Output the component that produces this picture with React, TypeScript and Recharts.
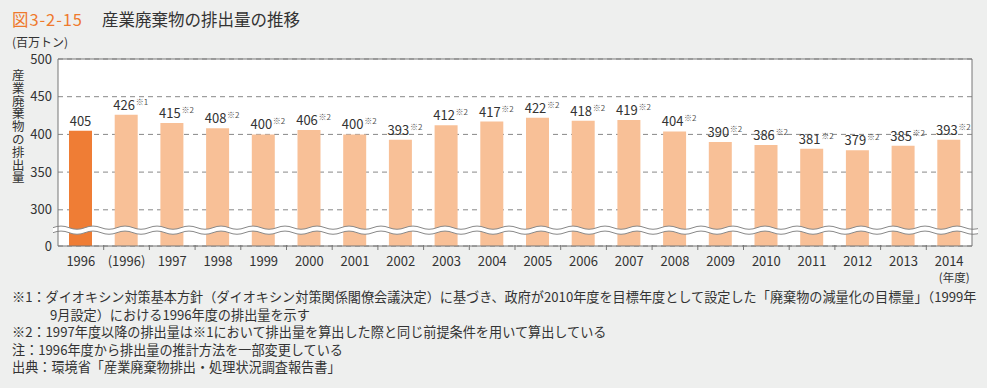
import { BarChart, Bar, XAxis, YAxis, CartesianGrid, Cell, LabelList, ReferenceLine } from 'recharts';

const years = [
  '1996', '(1996)', '1997', '1998', '1999', '2000', '2001', '2002', '2003', '2004',
  '2005', '2006', '2007', '2008', '2009', '2010', '2011', '2012', '2013', '2014',
];
const emissions = [405, 426, 415, 408, 400, 406, 400, 393, 412, 417, 422, 418, 419, 404, 390, 386, 381, 379, 385, 393];
const notes = ['', '※1', '※2', '※2', '※2', '※2', '※2', '※2', '※2', '※2', '※2', '※2', '※2', '※2', '※2', '※2', '※2', '※2', '※2', '※2'];
// bottom of the broken axis is shown as 0
const yTicks = [252, 300, 350, 400, 450, 500];
const yLabel = '産業廃棄物の排出量';
const footnotes = [
  '※1：ダイオキシン対策基本方針（ダイオキシン対策関係閣僚会議決定）に基づき、政府が2010年度を目標年度として設定した「廃棄物の減量化の目標量」（1999年',
  '9月設定）における1996年度の排出量を示す',
  '※2：1997年度以降の排出量は※1において排出量を算出した際と同じ前提条件を用いて算出している',
  '注：1996年度から排出量の推計方法を一部変更している',
  '出典：環境省「産業廃棄物排出・処理状況調査報告書」',
];

const data = years.map((year, i) => ({ year, value: emissions[i], note: notes[i] }));

const FONT = '"Noto Sans CJK JP", "Noto Sans", sans-serif';
const CHART_W = 987;
const Y_AXIS_W = 58;
const RIGHT = 15;
const BAND = (CHART_W - Y_AXIS_W - RIGHT) / years.length;

const XTick = ({ x, y, payload, index }: any) => (
  <g>
    {index > 0 && (
      <line x1={x - BAND / 2} x2={x - BAND / 2} y1={y - 4} y2={y - 9} stroke="#777" strokeWidth={1} />
    )}
    <text x={x} y={y + 12} textAnchor="middle" fontSize={13} fill="#333" fontFamily={FONT}>
      {payload.value}
    </text>
    {index === years.length - 1 && (
      <text x={x + 5} y={y + 28} textAnchor="middle" fontSize={11.5} fill="#333" fontFamily={FONT}>
        (年度)
      </text>
    )}
  </g>
);

const ValueLabel = ({ x, y, width, value, index }: any) => {
  const cx = x + width / 2;
  const note = notes[index];
  const nx = note ? cx - 2 : cx;
  return (
    <g>
      <text x={nx} y={y - 5} textAnchor="middle" fontSize={13} fill="#333" fontFamily={FONT}>
        {value}
      </text>
      {note && (
        <text x={nx + 11.5} y={y - 10} textAnchor="start" fontSize={8} fill="#555" fontFamily={FONT}>
          {note}
        </text>
      )}
    </g>
  );
};

const WaveBreak = ({ x1, x2, y1 }: any) => {
  const start = x1 - 5;
  const end = x2 + 6;
  const period = 32;
  const amp = 1.6;
  const wave = (yc: number) => {
    let d = `M${start},${yc}`;
    for (let x = start; x < end; x += period) {
      d += ` q${period / 4},${-amp * 2} ${period / 2},0 t${period / 2},0`;
    }
    return d;
  };
  const top = y1 - 2.5;
  const bottom = y1 + 2.5;
  let fill = wave(top);
  const n = Math.ceil((end - start) / period);
  fill += ` L${start + n * period},${bottom}`;
  let back = '';
  for (let i = n - 1; i >= 0; i--) {
    const sx = start + (i + 1) * period;
    back += ` Q${sx - period / 4},${bottom + amp * 2} ${sx - period / 2},${bottom} T${sx - period},${bottom}`;
  }
  fill += back + ' Z';
  return (
    <g>
      <clipPath id="waveClip">
        <rect x={start} y={top - 5} width={end - start} height={15} />
      </clipPath>
      <g clipPath="url(#waveClip)">
        <path d={fill} fill="#fff" stroke="none" />
        <path d={wave(top)} fill="none" stroke="#888" strokeWidth={1} />
        <path d={wave(bottom)} fill="none" stroke="#888" strokeWidth={1} />
      </g>
    </g>
  );
};

export default function App() {
  return (
    <div
      style={{
        position: 'absolute',
        left: 0,
        top: 0,
        width: 987,
        height: 388,
        background: '#eeefee',
        fontFamily: FONT,
        color: '#333',
        overflow: 'hidden',
      }}
    >
      <div style={{ position: 'absolute', left: 12, top: 7, fontSize: 16.5, whiteSpace: 'nowrap' }}>
        <span style={{ color: '#ee7a2d', letterSpacing: 0.9 }}>図3-2-15</span>
        <span style={{ marginLeft: 19, color: '#333' }}>産業廃棄物の排出量の推移</span>
      </div>
      <div style={{ position: 'absolute', left: 12, top: 33, fontSize: 12, whiteSpace: 'nowrap' }}>(百万トン)</div>
      <div
        style={{
          position: 'absolute',
          left: 12,
          top: 69,
          fontSize: 12.5,
          lineHeight: '12.8px',
          width: 13,
          wordBreak: 'break-all',
        }}
      >
        {yLabel}
      </div>
      <div style={{ position: 'absolute', left: 0, top: 0 }}>
        <BarChart
          width={CHART_W}
          height={290}
          data={data}
          margin={{ top: 59, right: RIGHT - 1, bottom: 0, left: 0 }}
          barSize={23}
        >
          <CartesianGrid vertical={false} stroke="#888" strokeDasharray="5 4" fill="#fff" />
          <XAxis
            dataKey="year"
            height={44}
            axisLine={{ stroke: '#777' }}
            tickLine={false}
            interval={0}
            tick={<XTick />}
          />
          <YAxis
            width={Y_AXIS_W}
            domain={[252, 500]}
            ticks={yTicks}
            interval={0}
            allowDataOverflow
            axisLine={{ stroke: '#777' }}
            tickLine={false}
            tickSize={0}
            tickMargin={6}
            tickFormatter={(v: number) => (v === 252 ? '0' : String(v))}
            tick={{ fontSize: 13, fill: '#333', fontFamily: FONT }}
          />
          <YAxis yAxisId="frame" orientation="right" width={1} tick={false} axisLine={{ stroke: '#777' }} tickLine={false} />
          <Bar dataKey="value" isAnimationActive={false}>
            {data.map((d, i) => (
              <Cell key={d.year} fill={i === 0 ? '#ef7d35' : '#f8c097'} />
            ))}
            <LabelList dataKey="value" content={<ValueLabel />} />
          </Bar>
          <ReferenceLine y={500} stroke="#777" strokeWidth={1} />
          <ReferenceLine y={273} shape={<WaveBreak />} />
        </BarChart>
      </div>
      <div
        style={{
          position: 'absolute',
          left: 12,
          top: 288,
          fontSize: 13.15,
          lineHeight: '17.5px',
          whiteSpace: 'nowrap',
          color: '#333',
        }}
      >
        <div>{footnotes[0]}</div>
        <div style={{ paddingLeft: 38 }}>{footnotes[1]}</div>
        <div>{footnotes[2]}</div>
        <div>{footnotes[3]}</div>
        <div>{footnotes[4]}</div>
      </div>
    </div>
  );
}
